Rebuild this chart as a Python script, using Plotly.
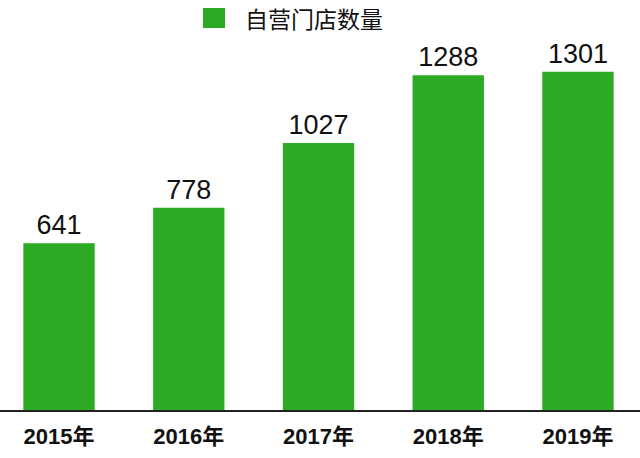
import plotly.graph_objects as go

years = ["2015年", "2016年", "2017年", "2018年", "2019年"]
stores = [641, 778, 1027, 1288, 1301]
series_name = "自营门店数量"

green = "#2DAA23"
num_font = "Liberation Sans, Arial, Noto Sans CJK SC, sans-serif"

fig = go.Figure()
fig.add_trace(go.Bar(
    x=years, y=stores, name=series_name,
    marker=dict(color=green, line=dict(width=0)),
    text=[str(v) for v in stores], textposition="outside",
    textfont=dict(size=27, color="#111111", family=num_font),
    cliponaxis=False, showlegend=False,
))

# legend drawn as a key square + label
fig.add_shape(type="rect", xref="paper", yref="paper",
              x0=203/640, x1=225/640, y0=1 - 28/410, y1=1 - 8/410,
              fillcolor=green, line=dict(width=0))
fig.add_annotation(text=series_name, xref="paper", yref="paper",
                   x=243/640, y=1 - 18/410, xanchor="left", yanchor="middle",
                   showarrow=False,
                   font=dict(size=23, color="#111111", family="Noto Sans CJK SC, sans-serif"))

fig.update_layout(
    width=640, height=458,
    margin=dict(l=0, r=0, t=0, b=48),
    paper_bgcolor="white", plot_bgcolor="white",
    bargap=0.45,
    xaxis=dict(range=[-0.455, 4.478], showline=True, linecolor="#222222", linewidth=2,
               ticks="outside", ticklen=6, tickcolor="rgba(0,0,0,0)",
               tickfont=dict(size=22, color="#111111", family=num_font, weight="bold"),
               showgrid=False, fixedrange=True),
    yaxis=dict(range=[0, 1577], visible=False, showgrid=False, zeroline=False, fixedrange=True),
    showlegend=False,
)

fig.write_html("out.html", config={"displayModeBar": False, "staticPlot": True},
               post_script="document.body.style.margin='0';document.body.style.overflow='hidden';")
